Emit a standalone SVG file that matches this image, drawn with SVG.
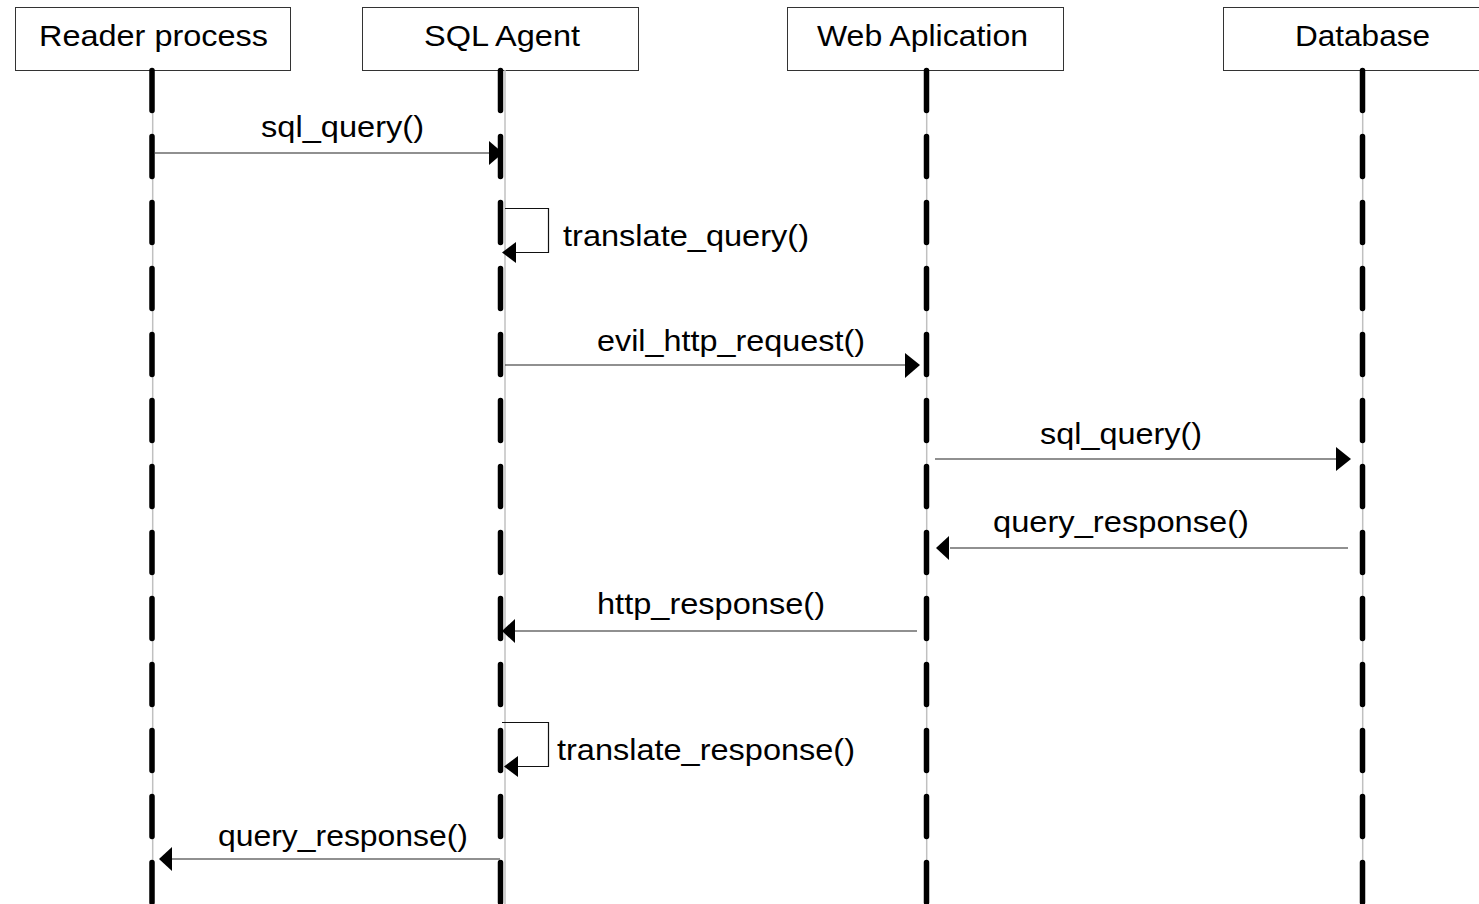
<svg xmlns="http://www.w3.org/2000/svg" width="1479" height="904" viewBox="0 0 1479 904">
<style>
.box{fill:#fff;stroke:#333;stroke-width:1}
.t{font-family:"Liberation Sans",Arial,sans-serif;font-size:30px;fill:#000}
.life{stroke:#c0c0c0;stroke-width:1.5;fill:none}
.dash{stroke:#000;stroke-width:5.5;stroke-linecap:round;stroke-dasharray:40 26;fill:none}
.msg{stroke:#222;stroke-width:1.2;fill:none}
.loop{stroke:#111;stroke-width:1.2;fill:none}
.ah{fill:#000}
</style>
<rect width="1479" height="904" fill="#fff"/>
<g id="node-reader">
<rect class="box" x="15.5" y="7.5" width="275" height="63"/>
<text class="t" x="39" y="46" textLength="229" lengthAdjust="spacingAndGlyphs">Reader process</text>
<line class="life" x1="152.7" y1="70" x2="152.7" y2="904"/>
<line class="dash" x1="152" y1="70.5" x2="152" y2="910"/>
</g>
<g id="node-sqlagent">
<rect class="box" x="362.5" y="7.5" width="276" height="63"/>
<text class="t" x="424" y="46" textLength="156" lengthAdjust="spacingAndGlyphs">SQL Agent</text>
<line class="life" x1="505" y1="70" x2="505" y2="904"/>
<line class="dash" x1="500.5" y1="70.5" x2="500.5" y2="910"/>
</g>
<g id="node-webapp">
<rect class="box" x="787.5" y="7.5" width="276" height="63"/>
<text class="t" x="817" y="46" textLength="211" lengthAdjust="spacingAndGlyphs">Web Aplication</text>
<line class="life" x1="926.7" y1="70" x2="926.7" y2="904"/>
<line class="dash" x1="926.5" y1="70.5" x2="926.5" y2="910"/>
</g>
<g id="node-database">
<rect class="box" x="1223.5" y="7.5" width="270" height="63"/>
<text class="t" x="1295" y="46" textLength="135" lengthAdjust="spacingAndGlyphs">Database</text>
<line class="life" x1="1362.7" y1="70" x2="1362.7" y2="904"/>
<line class="dash" x1="1362.5" y1="70.5" x2="1362.5" y2="910"/>
</g>
<g id="connectors">
<line class="msg" x1="155" y1="153" x2="490" y2="153"/>
<polygon class="ah" points="503,153 489,141 489,165"/>
<text class="t" x="261" y="137" textLength="163" lengthAdjust="spacingAndGlyphs">sql_query()</text>
<polyline class="loop" points="505,208.5 548.5,208.5 548.5,252.5 514,252.5"/>
<polygon class="ah" points="502,252.5 516,242 516,263"/>
<text class="t" x="563" y="246" textLength="246" lengthAdjust="spacingAndGlyphs">translate_query()</text>
<line class="msg" x1="505" y1="365" x2="906" y2="365"/>
<polygon class="ah" points="920,365 905,353 905,378"/>
<text class="t" x="597" y="351" textLength="268" lengthAdjust="spacingAndGlyphs">evil_http_request()</text>
<line class="msg" x1="935" y1="459" x2="1337" y2="459"/>
<polygon class="ah" points="1351,459 1336,447 1336,471"/>
<text class="t" x="1040" y="444" textLength="162" lengthAdjust="spacingAndGlyphs">sql_query()</text>
<line class="msg" x1="1348" y1="548" x2="950" y2="548"/>
<polygon class="ah" points="936,548 949,536 949,560"/>
<text class="t" x="993" y="532" textLength="256" lengthAdjust="spacingAndGlyphs">query_response()</text>
<line class="msg" x1="917" y1="631" x2="515" y2="631"/>
<polygon class="ah" points="502,631 515,619 515,643"/>
<text class="t" x="597" y="614" textLength="228" lengthAdjust="spacingAndGlyphs">http_response()</text>
<polyline class="loop" points="502,722.5 548.5,722.5 548.5,766.5 516,766.5"/>
<polygon class="ah" points="504,766.5 518,756 518,777"/>
<text class="t" x="557" y="760" textLength="298" lengthAdjust="spacingAndGlyphs">translate_response()</text>
<line class="msg" x1="500" y1="859" x2="172" y2="859"/>
<polygon class="ah" points="159,859 172,847 172,871"/>
<text class="t" x="218" y="846" textLength="250" lengthAdjust="spacingAndGlyphs">query_response()</text>
</g>
</svg>
